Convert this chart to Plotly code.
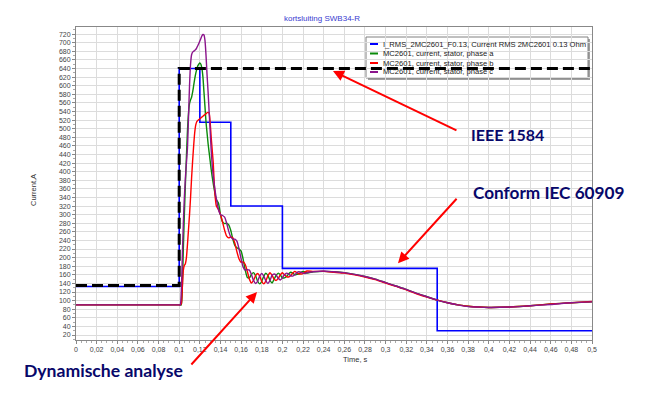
import plotly.graph_objects as go

# ---------------- data ----------------
title_text = "kortsluiting SWB34-R"
x_title = "Time, s"
y_title = "Current,A"

series_names = [
    "I_RMS_2MC2601_F0.13, Current RMS 2MC2601 0.13 Ohm",
    "MC2601, current, stator, phase a",
    "MC2601, current, stator, phase b",
    "MC2601, current, stator, phase c",
]

# RMS step (blue)
rms_t = [0.0, 0.1, 0.12, 0.15, 0.2, 0.35, 0.5]
rms_v = [133, 640, 515, 320, 175, 30, 30]

# IEEE 1584 (black dashed)
ieee_t = [0.0, 0.1, 0.5]
ieee_v = [135, 640, 640]

# phase currents: shared time base
t_phase = [0.0,
           0.100, 0.101, 0.102, 0.103, 0.104, 0.105, 0.106, 0.107, 0.108, 0.109,
           0.110, 0.111, 0.112, 0.113, 0.114, 0.115, 0.116, 0.117, 0.118, 0.119,
           0.120, 0.121, 0.122, 0.123, 0.124, 0.125, 0.126, 0.127, 0.128, 0.129,
           0.130, 0.131, 0.132, 0.133, 0.134, 0.135, 0.136,
           0.138, 0.140, 0.142, 0.144, 0.146, 0.148, 0.150, 0.152, 0.154, 0.156,
           0.158, 0.160, 0.162, 0.164, 0.166, 0.168, 0.170, 0.172, 0.174, 0.176,
           0.178, 0.180, 0.182, 0.184, 0.186, 0.188, 0.190, 0.192, 0.194, 0.196,
           0.198, 0.200, 0.202, 0.204, 0.206, 0.208, 0.210, 0.212, 0.214, 0.216,
           0.218, 0.220, 0.222, 0.224,
           0.23, 0.24, 0.25, 0.26, 0.27, 0.28, 0.29, 0.30, 0.31, 0.32,
           0.33, 0.34, 0.35, 0.36, 0.37, 0.38, 0.39, 0.40,
           0.42, 0.44, 0.46, 0.48, 0.50]

phase_a = [90,
           90, 90, 90, 130, 220, 300, 370, 435, 495, 535,
           558, 567, 573, 585, 600, 615, 628, 638, 646, 650,
           653, 650, 640, 620, 585, 550, 515, 490, 465, 445,
           425, 405, 388, 372, 358, 345, 335,
           327, 300, 283, 279, 280, 276, 263, 243, 228, 223,
           220, 215, 196, 171, 154, 153, 161, 165, 158, 145,
           139, 145, 157, 164, 158, 147, 141, 150, 159, 164,
           160, 153, 153, 156, 162, 166, 164, 160, 161, 162,
           166, 168, 167, 164,
           167, 168, 167, 165, 161, 156, 150, 142, 134, 126,
           117, 109, 101, 95, 90, 87, 85, 84,
           85, 88, 92, 95, 97]

phase_b = [90,
           90, 90, 92, 130, 170, 182, 186, 200, 230, 265,
           300, 340, 385, 425, 460, 490, 508, 516, 519, 521,
           523, 525, 527, 529, 531, 533, 535, 537, 538, 536,
           515, 480, 450, 420, 370, 338, 320,
           312, 300, 283, 264, 250, 246, 248, 246, 233, 213,
           197, 189, 190, 184, 168, 150, 141, 147, 158, 163,
           157, 145, 139, 146, 158, 165, 159, 150, 147, 152,
           160, 165, 160, 156, 155, 158, 164, 168, 165, 162,
           162, 163, 167, 169,
           168, 168, 166, 164, 160, 155, 149, 141, 133, 125,
           116, 108, 101, 95, 90, 87, 85, 84,
           85, 88, 92, 95, 98]

phase_c = [90,
           90, 90, 120, 200, 280, 340, 385, 420, 455, 525,
           600, 650, 672, 678, 680, 682, 684, 688, 693, 698,
           704, 710, 716, 719, 718, 705, 670, 625, 585, 540,
           495, 450, 415, 390, 370, 352, 337,
           312, 300, 298, 294, 280, 261, 248, 243, 243, 238,
           220, 197, 178, 171, 172, 171, 161, 147, 140, 145,
           157, 163, 157, 146, 140, 147, 159, 162, 159, 152,
           148, 153, 160, 164, 162, 158, 157, 160, 165, 167,
           166, 164, 163, 165,
           167, 169, 167, 165, 161, 156, 150, 142, 134, 126,
           117, 109, 101, 95, 90, 86, 85, 84,
           85, 88, 91, 95, 97]

x_tickvals = [0, 0.02, 0.04, 0.06, 0.08, 0.1, 0.12, 0.14, 0.16, 0.18, 0.2,
              0.22, 0.24, 0.26, 0.28, 0.3, 0.32, 0.34, 0.36, 0.38, 0.4,
              0.42, 0.44, 0.46, 0.48, 0.5]
x_ticktext = ["0", "0,02", "0,04", "0,06", "0,08", "0,1", "0,12", "0,14", "0,16",
              "0,18", "0,2", "0,22", "0,24", "0,26", "0,28", "0,3", "0,32", "0,34",
              "0,36", "0,38", "0,4", "0,42", "0,44", "0,46", "0,48", "0,5"]
y_tickvals = list(range(20, 721, 20))

callouts = ["IEEE 1584", "Conform IEC 60909", "Dynamische analyse"]

# ---------------- figure ----------------
BLUE = "#0000ff"
GREEN = "#0a8a0a"
RED = "#ff0000"
PURPLE = "#8b148b"

fig = go.Figure()
fig.add_trace(go.Scatter(x=rms_t, y=rms_v, mode="lines", line=dict(color=BLUE, width=1.6, shape="hv"),
                         name=series_names[0]))
fig.add_trace(go.Scatter(x=t_phase, y=phase_a, mode="lines",
                         line=dict(color=GREEN, width=1.4, shape="spline", smoothing=0.6),
                         name=series_names[1]))
fig.add_trace(go.Scatter(x=t_phase, y=phase_b, mode="lines",
                         line=dict(color=RED, width=1.4, shape="spline", smoothing=0.6),
                         name=series_names[2]))
fig.add_trace(go.Scatter(x=t_phase, y=phase_c, mode="lines",
                         line=dict(color=PURPLE, width=1.4, shape="spline", smoothing=0.6),
                         name=series_names[3]))
fig.add_trace(go.Scatter(x=ieee_t, y=ieee_v, mode="lines",
                         line=dict(color="black", width=3, shape="hv", dash="11px,5px"),
                         name="IEEE 1584"))

# page body has an 8px margin: figure starts at page (8, 8)
OFF = 8
W, H = 650 - OFF, 394 - OFF
PL, PR, PT, PB = 76, 592, 27, 340          # plot-area edges in page pixels
L, T = PL - OFF, PT - OFF
R, B = (650 - OFF) - (PR - OFF), H - (PB - OFF)
pw, ph = PR - PL, PB - PT


def px(x):
    return (x - PL) / pw


def py(y):
    return (PB - y) / ph


fig.update_layout(
    width=W, height=H,
    margin=dict(l=L, r=R, t=T, b=B, autoexpand=False),
    paper_bgcolor="white", plot_bgcolor="white",
    showlegend=False,
    font=dict(family="Liberation Sans, Arial, sans-serif", size=7, color="#444"),
)
fig.update_xaxes(
    range=[0, 0.5], tickmode="array", tickvals=x_tickvals, ticktext=x_ticktext,
    showgrid=True, gridcolor="#dcdcdc", gridwidth=1, zeroline=False,
    showline=True, linecolor="#888", linewidth=1, mirror=True,
    ticks="outside", ticklen=3, tickcolor="#888",
    minor=dict(ticks="outside", ticklen=2, dtick=0.005, tickcolor="#aaa", showgrid=False),
)
fig.update_yaxes(
    range=[8.4, 736.5], tickmode="array", tickvals=y_tickvals,
    showgrid=True, gridcolor="#dcdcdc", gridwidth=1, zeroline=False,
    showline=True, linecolor="#888", linewidth=1, mirror=True,
    ticks="outside", ticklen=3, tickcolor="#888",
    minor=dict(ticks="outside", ticklen=2, dtick=10, tickcolor="#aaa", showgrid=False),
)

# manual legend box
lx0, lx1, ly0, ly1 = 366, 588, 37, 78
shapes = [
    dict(type="rect", xref="paper", yref="paper", x0=px(lx0 + 2), x1=px(lx1 + 2), y0=py(ly1 + 2), y1=py(ly0 + 2),
         fillcolor="#a0a0a0", line=dict(width=0), layer="between"),
    dict(type="rect", xref="paper", yref="paper", x0=px(lx0), x1=px(lx1), y0=py(ly1), y1=py(ly0),
         fillcolor="white", line=dict(color="#808080", width=1), layer="between"),
]
leg_colors = [BLUE, GREEN, RED, PURPLE]
leg_rows = [44, 53.5, 63, 72]
annotations = []
for name, col, yy in zip(series_names, leg_colors, leg_rows):
    shapes.append(dict(type="line", xref="paper", yref="paper", x0=px(370), x1=px(378), y0=py(yy), y1=py(yy),
                       line=dict(color=col, width=2), layer="between"))
    annotations.append(dict(x=px(381), y=py(yy), xref="paper", yref="paper", text=name, showarrow=False,
                            xanchor="left", yanchor="middle", font=dict(size=7.6, color="#222")))

# title and axis titles
annotations.append(dict(x=px(322), y=py(19), xref="paper", yref="paper", text=title_text, showarrow=False,
                        xanchor="center", yanchor="middle", font=dict(size=8, color="#3a3ad0")))
annotations.append(dict(x=px(355), y=py(359), xref="paper", yref="paper", text=x_title, showarrow=False,
                        xanchor="center", yanchor="middle", font=dict(size=7.5, color="#333")))
annotations.append(dict(x=px(33), y=py(190), xref="paper", yref="paper", text=y_title, showarrow=False,
                        textangle=-90, xanchor="center", yanchor="middle", font=dict(size=7.5, color="#333")))

# callout labels
NAVY = "#08086a"
cfont = "Lato, Open Sans, sans-serif"
annotations.append(dict(x=px(507), y=py(134), xref="paper", yref="paper", text="<b>%s</b>" % callouts[0],
                        showarrow=False, xanchor="center", yanchor="middle",
                        font=dict(size=16, color=NAVY, family=cfont)))
annotations.append(dict(x=px(549), y=py(192), xref="paper", yref="paper", text="<b>%s</b>" % callouts[1],
                        showarrow=False, xanchor="center", yanchor="middle",
                        font=dict(size=17.2, color=NAVY, family=cfont)))
annotations.append(dict(x=px(103), y=py(370), xref="paper", yref="paper", text="<b>%s</b>" % callouts[2],
                        showarrow=False, xanchor="center", yanchor="middle",
                        font=dict(size=17.6, color=NAVY, family=cfont)))

# red arrows
for hx, hy, ax, ay in [(0.249, 634, 125, 60), (0.312, 187, 60, -66), (0.1754, 120, -67, 74)]:
    annotations.append(dict(x=hx, y=hy, xref="x", yref="y", text="", showarrow=True,
                            ax=ax, ay=ay, axref="pixel", ayref="pixel",
                            arrowcolor="#ff0000", arrowwidth=2, arrowhead=2, arrowsize=1.1))

fig.update_layout(shapes=shapes, annotations=annotations)
fig.write_html("out.html")
